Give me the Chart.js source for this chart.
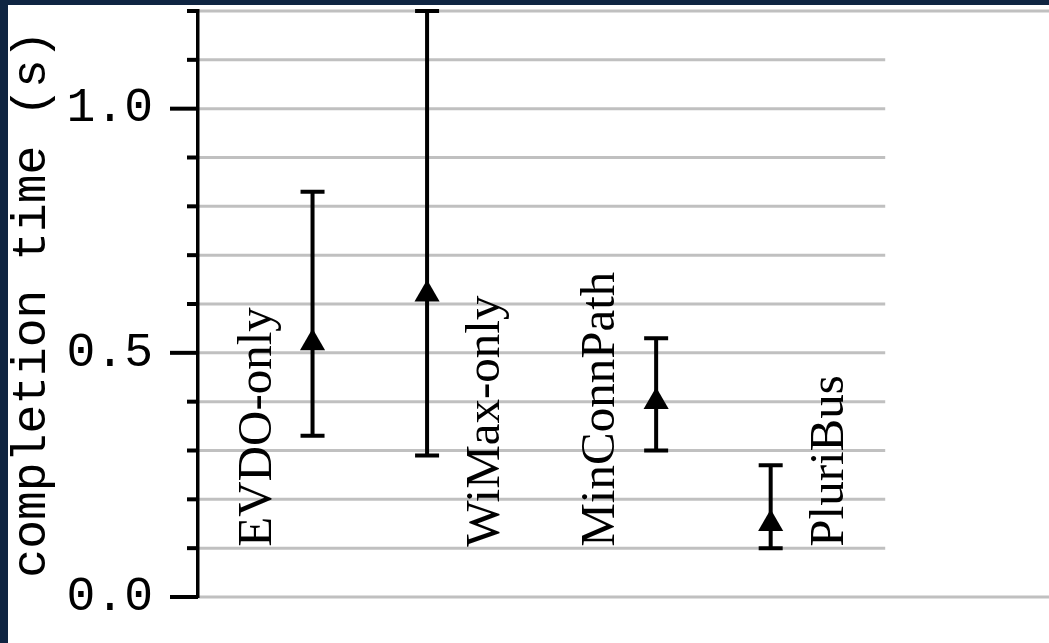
<!DOCTYPE html>
<html>
<head>
<meta charset="utf-8">
<script src="https://cdn.jsdelivr.net/npm/chart.js@4.4.0/dist/chart.umd.min.js"></script>
<style>
  html, body { margin: 0; padding: 0; background: #0f2542; width: 1049px; height: 643px; overflow: hidden; }
  #wrap { position: absolute; left: 8px; top: 5px; width: 1041px; height: 638px; background: #fff; }
  canvas { display: block; }
</style>
</head>
<body>
<div id="wrap"><canvas id="errChart" width="1041" height="638"></canvas></div>
<script>
// values
const categories = ['EVDO-only', 'WiMax-only', 'MinConnPath', 'PluriBus'];
const xPos  = [1, 2, 4, 5];
const means = [0.52, 0.62, 0.40, 0.15];
const lows  = [0.33, 0.29, 0.30, 0.10];
const highs = [0.83, 1.20, 0.53, 0.27];

// label sits left or right of its bar (pixels)
const labelShift = [-42, 72, -42, 72];

const gridPlugin = {
  id: 'partialGrid',
  beforeDraw(chart) {
    const { ctx, chartArea } = chart;
    const y = chart.scales.y, x = chart.scales.x;
    ctx.save();
    ctx.strokeStyle = '#c0c0c0';
    ctx.lineWidth = 3;
    y.ticks.forEach(t => {
      const py = y.getPixelForValue(t.value);
      const full = Math.abs(t.value) < 1e-6 || Math.abs(t.value - y.max) < 1e-6;
      ctx.beginPath();
      ctx.moveTo(chartArea.left, py);
      ctx.lineTo(full ? chartArea.right : x.getPixelForValue(6), py);
      ctx.stroke();
    });
    ctx.restore();
  },
  beforeDatasetsDraw(chart) {
    const { ctx } = chart;
    const y = chart.scales.y, x = chart.scales.x;
    ctx.save();
    ctx.strokeStyle = '#000';
    ctx.lineWidth = 4;
    // tick marks on the y axis
    const ax = chart.chartArea.left;
    y.ticks.forEach(t => {
      const py = y.getPixelForValue(t.value);
      const major = Math.round(t.value * 10) % 5 === 0;
      ctx.beginPath();
      ctx.moveTo(ax - (major ? 28 : 11), py);
      ctx.lineTo(ax, py);
      ctx.stroke();
    });
    // error bars
    xPos.forEach((v, i) => {
      const px = x.getPixelForValue(v);
      const top = y.getPixelForValue(highs[i]);
      const bot = y.getPixelForValue(lows[i]);
      ctx.beginPath();
      ctx.moveTo(px, top); ctx.lineTo(px, bot);
      ctx.moveTo(px - 12, top); ctx.lineTo(px + 12, top);
      ctx.moveTo(px - 12, bot); ctx.lineTo(px + 12, bot);
      ctx.stroke();
    });
    ctx.restore();
  },
  afterDatasetsDraw(chart) {
    const { ctx } = chart;
    const y = chart.scales.y, x = chart.scales.x;
    ctx.save();
    ctx.fillStyle = '#000';
    ctx.font = '49px "Liberation Serif", "Times New Roman", serif';
    ctx.textAlign = 'left';
    ctx.textBaseline = 'alphabetic';
    categories.forEach((c, i) => {
      ctx.save();
      ctx.translate(x.getPixelForValue(xPos[i]) + labelShift[i], y.getPixelForValue(0.103));
      ctx.rotate(-Math.PI / 2);
      ctx.fillText(c, 0, 0);
      ctx.restore();
    });
    ctx.restore();
  }
};

new Chart(document.getElementById('errChart'), {
  type: 'scatter',
  data: {
    datasets: [{
      data: xPos.map((v, i) => ({ x: v, y: means[i] })),
      pointStyle: 'triangle',
      pointRadius: 14.5,
      pointHoverRadius: 14.5,
      backgroundColor: '#000',
      borderColor: '#000',
      borderWidth: 0,
      showLine: false
    }]
  },
  options: {
    responsive: false,
    animation: false,
    layout: { autoPadding: false, padding: { left: 0, top: 6, right: 0, bottom: 46 } },
    plugins: { legend: { display: false }, tooltip: { enabled: false } },
    scales: {
      x: { type: 'linear', min: 0, max: 7.43, display: false },
      y: {
        min: 0,
        max: 1.2,
        grid: { display: false, drawTicks: false },
        border: { display: true, color: '#000', width: 3.5 },
        ticks: {
          stepSize: 0.1,
          autoSkip: false,
          padding: 45,
          color: '#000',
          font: { family: '"Liberation Mono", monospace', size: 48, lineHeight: 1 },
          callback: v => (Math.round(v * 10) % 5 === 0 ? v.toFixed(1) : '')
        },
        title: {
          display: true,
          text: 'completion time (s)',
          color: '#000',
          padding: 0,
          font: { family: '"Liberation Mono", monospace', size: 48, lineHeight: 1 }
        },
        afterFit(scale) {
          scale.width = 190;
          scale.paddingTop = 0;
          scale.paddingBottom = 0;
        }
      }
    }
  },
  plugins: [gridPlugin]
});
</script>
</body>
</html>
